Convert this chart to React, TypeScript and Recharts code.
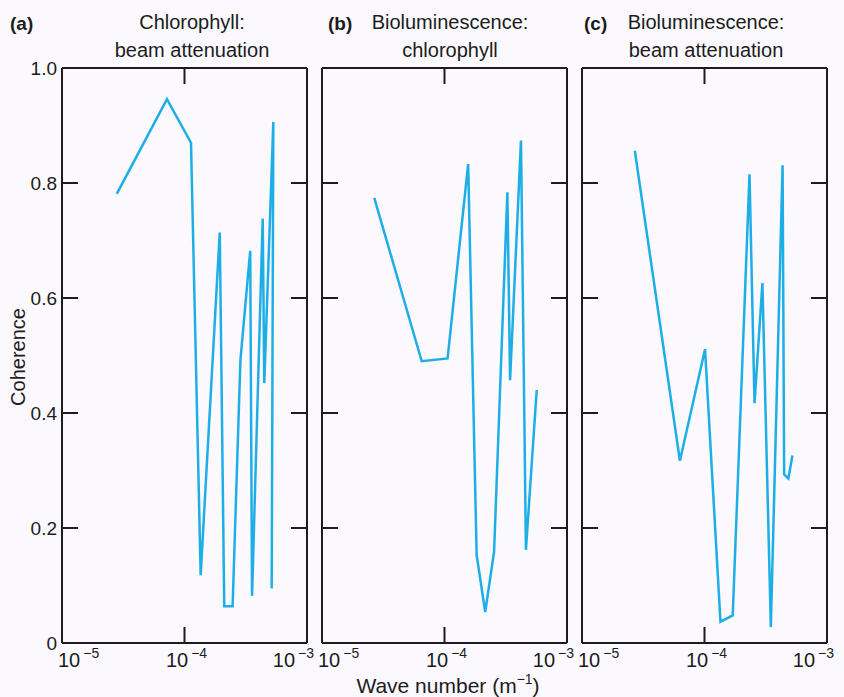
import { LineChart, Line, XAxis, YAxis, ReferenceLine } from 'recharts'

const FONT = '"Liberation Sans", Arial, sans-serif'
const INK = '#1c1c1c'
const TRACE = '#1eaee6'

const waveTicks = [1e-5, 1e-4, 1e-3]
const coherenceTicks = [0, 0.2, 0.4, 0.6, 0.8, 1.0]

// (a) chlorophyll : beam attenuation
const waveA = [2.8e-5, 7.19e-5, 1.13e-4, 1.355e-4, 1.94e-4, 2.11e-4, 2.47e-4, 2.86e-4, 3.44e-4, 3.56e-4, 4.35e-4, 4.48e-4, 5.31e-4, 5.15e-4]
const cohA = [0.781, 0.946, 0.87, 0.118, 0.714, 0.064, 0.064, 0.492, 0.682, 0.082, 0.738, 0.452, 0.906, 0.095]

// (b) bioluminescence : chlorophyll
const waveB = [2.67e-5, 6.52e-5, 1.06e-4, 1.56e-4, 1.83e-4, 2.15e-4, 2.54e-4, 3.26e-4, 3.43e-4, 4.21e-4, 4.62e-4, 5.66e-4]
const cohB = [0.774, 0.49, 0.495, 0.833, 0.153, 0.054, 0.159, 0.784, 0.457, 0.874, 0.162, 0.44]

// (c) bioluminescence : beam attenuation
const waveC = [2.7e-5, 6.3e-5, 1.01e-4, 1.35e-4, 1.7e-4, 2.33e-4, 2.56e-4, 2.97e-4, 3.48e-4, 4.34e-4, 4.47e-4, 4.84e-4, 5.22e-4]
const cohC = [0.856, 0.317, 0.511, 0.037, 0.048, 0.815, 0.417, 0.626, 0.028, 0.831, 0.293, 0.286, 0.326]

const panels = [
  { tag: '(a)', title: ['Chlorophyll:', 'beam attenuation'], wave: waveA, coh: cohA, labels: true },
  { tag: '(b)', title: ['Bioluminescence:', 'chlorophyll'], wave: waveB, coh: cohB, labels: false },
  { tag: '(c)', title: ['Bioluminescence:', 'beam attenuation'], wave: waveC, coh: cohC, labels: false },
]

// plot box geometry
const PLOT_W = 245
const PLOT_H = 575
const PLOT_TOP = 68
const STEP = 260
const FIRST_LEFT = 62
const LEFT_W = 50
const RIGHT_W = 20
const TOP_H = 10
const BOTTOM_H = 40
const TICK = 16

// draws no label, but keeps the tick marks
const NoLabel = () => <g />

const frame = { stroke: INK, strokeWidth: 2 }

const xCommon = {
  dataKey: 'wave',
  type: 'number' as const,
  scale: 'log' as const,
  domain: [1e-5, 1e-3],
  allowDataOverflow: true,
  ticks: waveTicks,
  interval: 0,
}

const yCommon = {
  type: 'number' as const,
  domain: [0, 1],
  allowDataOverflow: true,
  ticks: coherenceTicks,
  interval: 0,
}

function WaveTick(props: any) {
  const { x, y, payload, index, visibleTicksCount } = props
  const exp = Math.round(Math.log10(payload.value))
  let anchor = 'middle'
  let dx = 2
  if (index === 0) {
    anchor = 'start'
    dx = -4
  } else if (index === visibleTicksCount - 1) {
    anchor = 'end'
    dx = 7
  }
  return (
    <text x={x + dx} y={y} textAnchor={anchor} fill={INK} fontSize={20} fontFamily={FONT}>
      10
      <tspan dx={3} dy={-9} fontSize={14}>
        {'\u2212' + String(-exp)}
      </tspan>
    </text>
  )
}

function Panel({ p, i }: { p: any; i: number }) {
  const data = p.wave.map((w: number, k: number) => ({ wave: w, coh: p.coh[k] }))
  const plotLeft = FIRST_LEFT + STEP * i
  const tickLen = TICK / PLOT_H // inward x tick length in coherence units
  const innerWave = waveTicks.slice(1, -1)
  return (
    <div style={{ position: 'absolute', left: plotLeft - LEFT_W, top: PLOT_TOP - TOP_H }}>
      <LineChart
        width={LEFT_W + PLOT_W + RIGHT_W}
        height={TOP_H + PLOT_H + BOTTOM_H}
        data={data}
        margin={{ top: 0, right: 0, bottom: 0, left: 0 }}
      >
        <XAxis
          xAxisId="bottom"
          {...xCommon}
          height={BOTTOM_H}
          axisLine={frame}
          tickLine={false}
          tickSize={0}
          tickMargin={24}
          tick={<WaveTick />}
        />
        <XAxis xAxisId="top" orientation="top" {...xCommon} height={TOP_H} axisLine={frame} tickLine={false} tick={false} />
        <YAxis
          yAxisId="left"
          {...yCommon}
          width={LEFT_W}
          axisLine={frame}
          tickLine={false}
          tickSize={0}
          tickMargin={5}
          tick={p.labels ? { fill: INK, fontSize: 19, fontFamily: FONT } : false}
          tickFormatter={(v: number) => (v === 0 ? '0' : v.toFixed(1))}
        />
        <YAxis yAxisId="right" orientation="right" {...yCommon} width={RIGHT_W} axisLine={frame} tickLine={false} tick={false} />
        {/* inward y tick marks */}
        <YAxis yAxisId="leftIn" {...yCommon} mirror width={TICK} axisLine={false} tickLine={frame} tickSize={TICK} tick={NoLabel} />
        <YAxis yAxisId="rightIn" orientation="right" {...yCommon} mirror width={TICK} axisLine={false} tickLine={frame} tickSize={TICK} tick={NoLabel} />
        {/* inward x tick marks at the inner decade */}
        {innerWave.map((w) => (
          <ReferenceLine
            key={'b' + w}
            xAxisId="bottom"
            yAxisId="left"
            segment={[{ x: w, y: 0 }, { x: w, y: tickLen }]}
            stroke={INK}
            strokeWidth={2}
            ifOverflow="visible"
          />
        ))}
        {innerWave.map((w) => (
          <ReferenceLine
            key={'t' + w}
            xAxisId="bottom"
            yAxisId="left"
            segment={[{ x: w, y: 1 }, { x: w, y: 1 - tickLen }]}
            stroke={INK}
            strokeWidth={2}
            ifOverflow="visible"
          />
        ))}
        <Line
          xAxisId="bottom"
          yAxisId="left"
          type="linear"
          dataKey="coh"
          stroke={TRACE}
          strokeWidth={2.5}
          dot={false}
          isAnimationActive={false}
        />
      </LineChart>
    </div>
  )
}

export default function App() {
  const titleX = [192, 450, 706]
  const tagX = [10, 328, 584]
  return (
    <div style={{ position: 'absolute', left: 0, top: 0, width: 844, height: 697, background: '#fbf9fd', overflow: 'hidden' }}>
      {panels.map((p, i) => (
        <Panel key={p.tag} p={p} i={i} />
      ))}
      <svg width={844} height={697} style={{ position: 'absolute', left: 0, top: 0, pointerEvents: 'none' }} fontFamily={FONT} fill={INK}>
        {panels.map((p, i) => (
          <g key={p.tag}>
            <text x={tagX[i]} y={30} fontSize={19} fontWeight="bold">{p.tag}</text>
            <text x={titleX[i]} y={29} fontSize={20} textAnchor="middle">{p.title[0]}</text>
            <text x={titleX[i]} y={57} fontSize={20} textAnchor="middle">{p.title[1]}</text>
          </g>
        ))}
        <text x={25} y={357} fontSize={20} textAnchor="middle" transform="rotate(-90 25 357)">Coherence</text>
        <text x={448} y={693} fontSize={21} textAnchor="middle">
          Wave number (m
          <tspan dy={-9} fontSize={14}>{'\u22121'}</tspan>
          <tspan dy={9}>)</tspan>
        </text>
      </svg>
    </div>
  )
}
